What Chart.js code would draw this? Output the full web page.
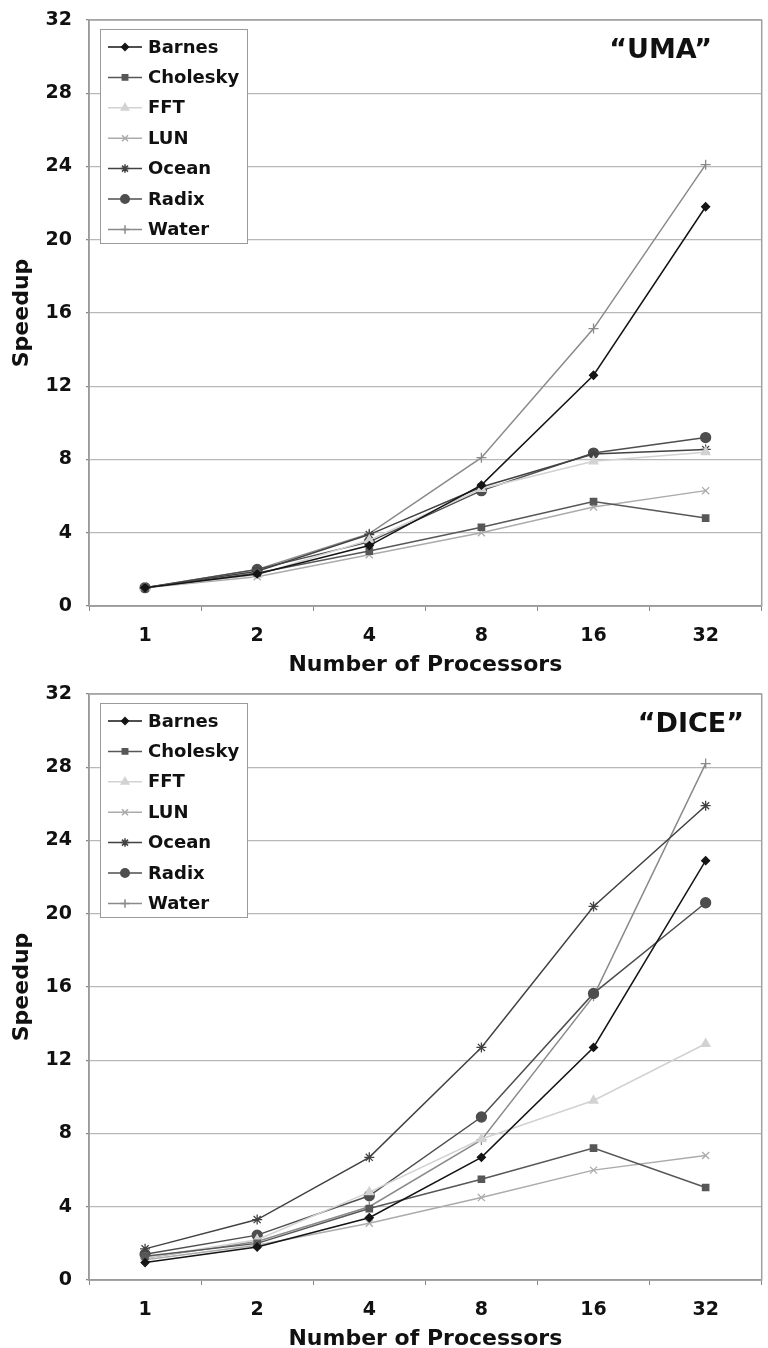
<!DOCTYPE html>
<html>
<head>
<meta charset="utf-8">
<script src="https://cdn.jsdelivr.net/npm/chart.js@4.4.3/dist/chart.umd.min.js"></script>
<style>
    html, body { margin: 0; padding: 0; background: #fff; }
    .panel { width: 768px; height: 674px; position: relative; }
    canvas { display: block; }
</style>
</head>
<body>
<div class="panel"><canvas id="uma-chart" width="768" height="674"></canvas></div>
<div class="panel"><canvas id="dice-chart" width="768" height="674"></canvas></div>
<script>
// --- data ---
const processors = ['1', '2', '4', '8', '16', '32'];
const yTicks = [0, 4, 8, 12, 16, 20, 24, 28, 32];
const apps = ['Barnes', 'Cholesky', 'FFT', 'LUN', 'Ocean', 'Radix', 'Water'];

const umaBarnes   = [1.0, 1.75, 3.3, 6.6, 12.6, 21.8];
const umaCholesky = [1.0, 1.8, 3.0, 4.3, 5.7, 4.8];
const umaFFT      = [1.0, 1.7, 3.6, 6.4, 7.9, 8.4];
const umaLUN      = [1.0, 1.6, 2.8, 4.0, 5.4, 6.3];
const umaOcean    = [1.0, 1.9, 3.9, 6.5, 8.3, 8.55];
const umaRadix    = [1.0, 2.0, 3.5, 6.3, 8.35, 9.2];
const umaWater    = [1.0, 2.0, 3.95, 8.1, 15.15, 24.1];

const diceBarnes   = [0.95, 1.8, 3.4, 6.7, 12.7, 22.9];
const diceCholesky = [1.3, 2.0, 3.9, 5.5, 7.2, 5.05];
const diceFFT      = [1.2, 2.2, 4.8, 7.7, 9.8, 12.9];
const diceLUN      = [1.1, 1.9, 3.1, 4.5, 6.0, 6.8];
const diceOcean    = [1.7, 3.3, 6.7, 12.7, 20.4, 25.9];
const diceRadix    = [1.4, 2.45, 4.6, 8.9, 15.65, 20.6];
const diceWater    = [1.2, 2.1, 4.0, 7.65, 15.5, 28.2];

const FONT = "'DejaVu Sans', Verdana, sans-serif";

// look of each series: colour, marker
const seriesStyle = {
    Barnes:   { color: '#151515', point: 'rectRot',  radius: 4 },
    Cholesky: { color: '#575757', point: 'rect',     radius: 4.5 },
    FFT:      { color: '#d2d2d2', point: 'triangle', radius: 5 },
    LUN:      { color: '#ababab', point: 'crossRot', radius: 5 },
    Ocean:    { color: '#424242', point: 'star',     radius: 5 },
    Radix:    { color: '#4e4e4e', point: 'circle',   radius: 5 },
    Water:    { color: '#8a8a8a', point: 'cross',    radius: 5 }
};

function makeDatasets(values) {
    return apps.map((name, i) => {
        const s = seriesStyle[name];
        return {
            label: name,
            data: values[i],
            borderColor: s.color,
            backgroundColor: s.color,
            borderWidth: 1.5,
            pointStyle: s.point,
            pointRadius: s.radius,
            pointBorderWidth: 1.3,
            pointBorderColor: s.color,
            pointBackgroundColor: s.color,
            tension: 0
        };
    });
}

// frame round the plot area
const frame = {
    id: 'frame',
    afterDatasetsDraw(chart) {
        const a = chart.chartArea;
        const ctx = chart.ctx;
        ctx.save();
        ctx.strokeStyle = '#a0a0a0';
        ctx.lineWidth = 1.5;
        ctx.strokeRect(a.left, a.top, a.right - a.left, a.bottom - a.top);
        ctx.restore();
    }
};

// boxed legend inside the plot, line sample + marker
const boxLegend = {
    id: 'boxLegend',
    afterDraw(chart) {
        const ctx = chart.ctx;
        const a = chart.chartArea;
        const x = a.left + 11, y = a.top + 9;
        const w = 147, h = 214, row = 30.4;
        ctx.save();
        ctx.fillStyle = '#fff';
        ctx.fillRect(x, y, w, h);
        ctx.strokeStyle = '#9a9a9a';
        ctx.lineWidth = 1;
        ctx.strokeRect(x + 0.5, y + 0.5, w, h);
        chart.data.datasets.forEach((ds, i) => {
            const cy = y + 18 + i * row;
            ctx.strokeStyle = ds.borderColor;
            ctx.fillStyle = ds.borderColor;
            ctx.lineWidth = 1.5;
            ctx.beginPath();
            ctx.moveTo(x + 8, cy);
            ctx.lineTo(x + 42, cy);
            ctx.stroke();
            const opts = { pointStyle: ds.pointStyle, radius: ds.pointRadius * 0.85, rotation: 0, borderWidth: 1.3 };
            if (Chart.helpers && Chart.helpers.drawPoint) {
                Chart.helpers.drawPoint(ctx, opts, x + 25, cy);
            }
            ctx.fillStyle = '#111';
            ctx.font = 'bold 18px ' + FONT;
            ctx.textBaseline = 'middle';
            ctx.textAlign = 'left';
            ctx.fillText(ds.label, x + 48, cy + 1);
        });
        ctx.restore();
    }
};

// panel label, top right
const panelLabel = {
    id: 'panelLabel',
    afterDraw(chart, args, opts) {
        const ctx = chart.ctx;
        ctx.save();
        ctx.fillStyle = '#111';
        ctx.font = 'bold 27px ' + FONT;
        ctx.textAlign = 'right';
        ctx.textBaseline = 'middle';
        ctx.fillText(opts.text, opts.right, chart.chartArea.top + opts.dy);
        ctx.restore();
    }
};

function makeChart(id, values, label, labelRight) {
    return new Chart(document.getElementById(id), {
        type: 'line',
        data: { labels: processors, datasets: makeDatasets(values) },
        plugins: [frame, boxLegend, panelLabel],
        options: {
            responsive: false,
            animation: false,
            layout: { padding: { top: 20, right: 2, bottom: 0, left: 0 } },
            plugins: {
                legend: { display: false },
                tooltip: { enabled: false },
                panelLabel: { text: label, right: labelRight, dy: 31 }
            },
            scales: {
                x: {
                    type: 'category',
                    offset: true,
                    grid: { offset: true, drawOnChartArea: false, drawTicks: true, tickLength: 5, tickColor: '#888' },
                    border: { color: '#888', width: 1.5 },
                    ticks: { color: '#111', padding: 14, font: { family: FONT, size: 19, weight: 'bold' } },
                    title: {
                        display: true,
                        text: 'Number of Processors',
                        color: '#111',
                        padding: { top: 0, bottom: -2 },
                        font: { family: FONT, size: 22, weight: 'bold', lineHeight: 1 }
                    },
                    afterFit: (scale) => { scale.height = 68; }
                },
                y: {
                    min: 0,
                    max: 32,
                    afterBuildTicks: (scale) => { scale.ticks = yTicks.map(v => ({ value: v })); },
                    grid: { color: '#b8b8b8', lineWidth: 1.2, tickLength: 3, tickColor: '#888' },
                    border: { color: '#888', width: 1.5 },
                    ticks: { color: '#111', padding: 14, font: { family: FONT, size: 19, weight: 'bold' } },
                    title: {
                        display: true,
                        text: 'Speedup',
                        color: '#111',
                        padding: { top: 9, bottom: 0 },
                        font: { family: FONT, size: 22, weight: 'bold' }
                    },
                    afterFit: (scale) => {
                        scale.width = 89;
                        scale.paddingTop = 0;
                        scale.paddingBottom = 0;
                    }
                }
            }
        }
    });
}

makeChart('uma-chart',
    [umaBarnes, umaCholesky, umaFFT, umaLUN, umaOcean, umaRadix, umaWater],
    '\u201CUMA\u201D', 712);
makeChart('dice-chart',
    [diceBarnes, diceCholesky, diceFFT, diceLUN, diceOcean, diceRadix, diceWater],
    '\u201CDICE\u201D', 744);
</script>
</body>
</html>
